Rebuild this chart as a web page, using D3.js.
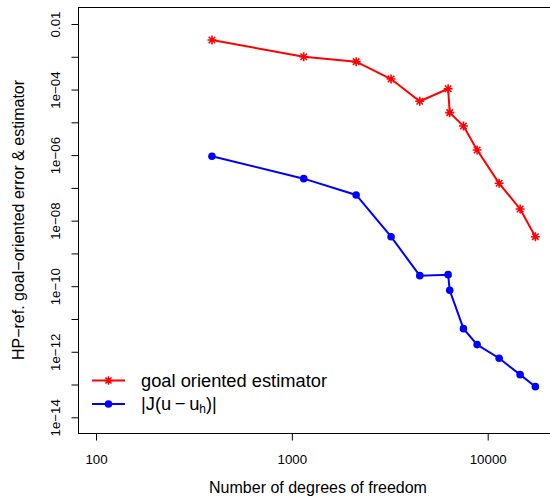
<!DOCTYPE html>
<html>
<head>
<meta charset="utf-8">
<title>HP-ref goal-oriented</title>
<style>
  body { margin: 0; background: #fff; }
  svg { display: block; font-family: "Liberation Sans", Arial, Helvetica, sans-serif; }
</style>
</head>
<body>
<div id="vis"></div>
<script src="https://d3js.org/d3.v7.min.js"></script>
<script>
// data
var dofs      = [391, 1150, 2130, 3210, 4500, 6280, 6400, 7520, 8830, 11440, 14640, 17520];
var estimator = [3.25e-3, 1.0e-3, 7.1e-4, 2.1e-4, 4.4e-5, 1.06e-4, 1.97e-5, 7.7e-6, 1.43e-6, 1.38e-7, 2.27e-8, 3.24e-9];
var error     = [9.2e-7, 1.91e-7, 6.07e-8, 3.24e-9, 2.1e-10, 2.25e-10, 7.5e-11, 5.07e-12, 1.65e-12, 6.33e-13, 2.0e-13, 8.6e-14];
var xTicks = [100, 1000, 10000];
var xTickLabels = ["100", "1000", "10000"];
var yTicks = [1e-14, 1e-13, 1e-12, 1e-11, 1e-10, 1e-9, 1e-8, 1e-7, 1e-6, 1e-5, 1e-4, 1e-3, 1e-2];
var yTickLabels = ["1e\u221214", "", "1e\u221212", "", "1e\u221210", "", "1e\u221208", "", "1e\u221206", "", "1e\u221204", "", "0.01"];
var seriesNames = ["goal oriented estimator", "|J(u\u2009\u2212\u2009u"];

var width = 550, height = 502;
var box = {left: 78.5, top: 7.5, right: 552, bottom: 433.5};

var svg = d3.select("#vis").append("svg")
    .attr("width", width)
    .attr("height", height);

var x = d3.scaleLog().domain([100, 10000]).range([96, 487.7]);
var y = d3.scaleLog().domain([1e-14, 1e-2]).range([417.3, 24]);

// plot frame
svg.append("rect")
    .attr("x", box.left).attr("y", box.top)
    .attr("width", box.right - box.left).attr("height", box.bottom - box.top)
    .attr("fill", "none").attr("stroke", "#000").attr("stroke-width", 1);

// x axis
var gx = svg.append("g")
    .attr("transform", "translate(0," + box.bottom + ")")
    .call(d3.axisBottom(x).tickValues(xTicks)
        .tickFormat(function(d, i) { return xTickLabels[i]; })
        .tickSize(7).tickPadding(14));
gx.select(".domain").remove();
gx.selectAll("text").attr("font-size", 13.3).attr("font-family", null).attr("fill", "#000");
gx.selectAll("line").attr("stroke", "#000");

// y axis
var gy = svg.append("g")
    .attr("transform", "translate(" + box.left + ",0)")
    .call(d3.axisLeft(y).tickValues(yTicks)
        .tickFormat(function(d, i) { return yTickLabels[i]; })
        .tickSize(7));
gy.select(".domain").remove();
gy.selectAll("line").attr("stroke", "#000");
gy.selectAll("text")
    .attr("font-size", 13.3).attr("font-family", null).attr("fill", "#000")
    .attr("x", 0).attr("dy", null)
    .attr("text-anchor", "middle")
    .attr("transform", "translate(-18.5,0) rotate(-90)");

// axis titles
svg.append("text")
    .attr("x", 318).attr("y", 493)
    .attr("text-anchor", "middle").attr("font-size", 16)
    .text("Number of degrees of freedom");

svg.append("text")
    .attr("transform", "translate(23.5,220) rotate(-90)")
    .attr("text-anchor", "middle").attr("font-size", 16)
    .text("HP\u2212ref. goal\u2212oriented error & estimator");

var line = d3.line()
    .x(function(d) { return x(d[0]); })
    .y(function(d) { return y(d[1]); });

function star(r) {
  var d = r * 0.72;
  return "M" + (-r) + ",0L" + r + ",0M0," + (-r) + "L0," + r +
         "M" + (-d) + "," + (-d) + "L" + d + "," + d +
         "M" + (-d) + "," + d + "L" + d + "," + (-d);
}

var estData = dofs.map(function(v, i) { return [v, estimator[i]]; });
var errData = dofs.map(function(v, i) { return [v, error[i]]; });

// estimator series
svg.append("path").datum(estData)
    .attr("d", line).attr("fill", "none")
    .attr("stroke", "#ff0000").attr("stroke-width", 2);
svg.selectAll(".star").data(estData).enter().append("path")
    .attr("class", "star")
    .attr("transform", function(d) { return "translate(" + x(d[0]) + "," + y(d[1]) + ")"; })
    .attr("d", star(4.5))
    .attr("stroke", "#ff0000").attr("stroke-width", 1.6).attr("fill", "none");

// error series
svg.append("path").datum(errData)
    .attr("d", line).attr("fill", "none")
    .attr("stroke", "#0000ff").attr("stroke-width", 2);
svg.selectAll(".dot").data(errData).enter().append("circle")
    .attr("class", "dot")
    .attr("cx", function(d) { return x(d[0]); })
    .attr("cy", function(d) { return y(d[1]); })
    .attr("r", 3.8).attr("fill", "#0000ff");

// legend
var leg = svg.append("g");
leg.append("line").attr("x1", 92).attr("x2", 125).attr("y1", 380.5).attr("y2", 380.5)
    .attr("stroke", "#ff0000").attr("stroke-width", 2);
leg.append("path").attr("transform", "translate(108.5,380.5)").attr("d", star(4.2))
    .attr("stroke", "#ff0000").attr("stroke-width", 1.6).attr("fill", "none");
leg.append("text").attr("x", 141).attr("y", 386.5).attr("font-size", 18.3)
    .text(seriesNames[0]);

leg.append("line").attr("x1", 92).attr("x2", 125).attr("y1", 404).attr("y2", 404)
    .attr("stroke", "#0000ff").attr("stroke-width", 2);
leg.append("circle").attr("cx", 108.5).attr("cy", 404).attr("r", 3.8).attr("fill", "#0000ff");
var t2 = leg.append("text").attr("x", 141).attr("y", 410).attr("font-size", 18.3);
t2.append("tspan").text(seriesNames[1]);
t2.append("tspan").attr("font-size", 12).attr("dy", 3).text("h");
t2.append("tspan").attr("dy", -3).text(")|");
</script>
</body>
</html>
